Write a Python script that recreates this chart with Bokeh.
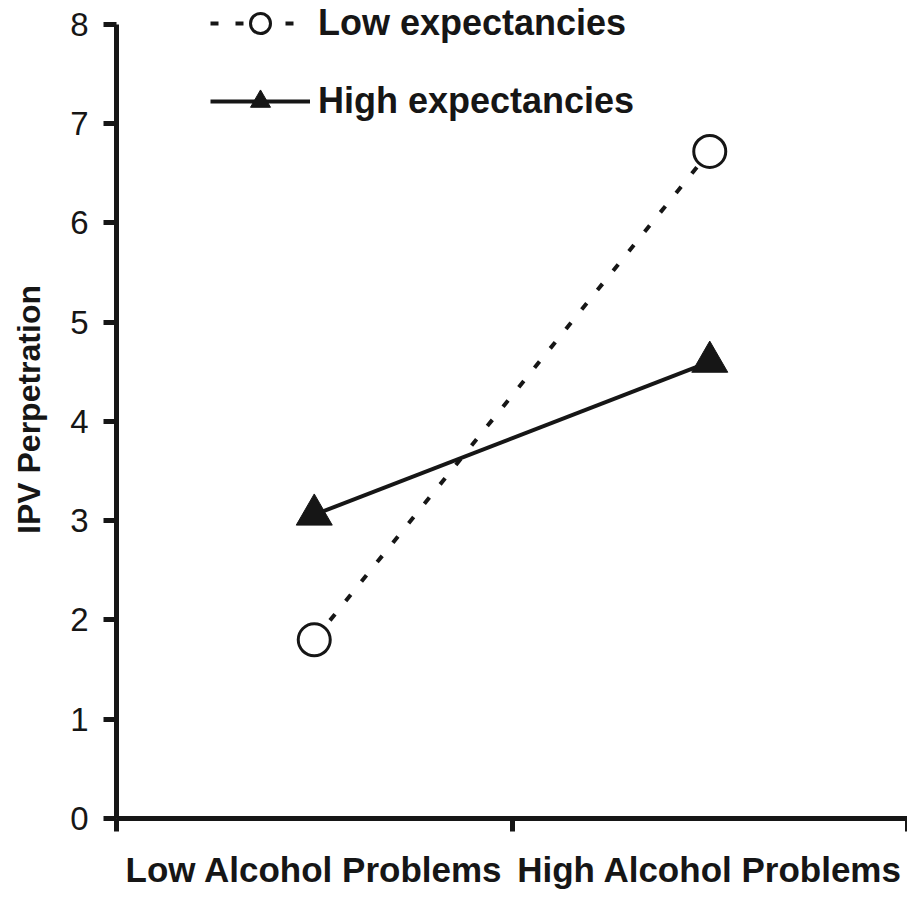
from bokeh.plotting import figure
from bokeh.models import Range1d, FixedTicker, Legend, LegendItem
from bokeh.embed import file_html
from bokeh.resources import INLINE

# ---- data ----
categories = ["Low Alcohol Problems", "High Alcohol Problems"]
series_names = ["Low expectancies", "High expectancies"]
low_expectancies = [1.80, 6.72]
high_expectancies = [3.06, 4.60]
y_ticks = [0, 1, 2, 3, 4, 5, 6, 7, 8]
y_label = "IPV Perpetration"

# category centres and boundaries on a numeric axis
x_pos = [i + 0.5 for i in range(len(categories))]
boundaries = list(range(len(categories) + 1))

INK = "#161616"
FONT = "Liberation Sans"

p = figure(width=907, height=891, output_backend="svg", toolbar_location=None,
           x_range=Range1d(0, len(categories)), y_range=Range1d(0, 8.24),
           min_border_left=116, min_border_right=0, min_border_top=0,
           min_border_bottom=0)
p.outline_line_color = None
p.grid.visible = False
p.background_fill_color = "white"
p.border_fill_color = "white"

# x axis: tick marks at category boundaries, labels at centres
xa = p.xaxis[0]
xa.ticker = FixedTicker(ticks=x_pos, minor_ticks=boundaries)
xa.major_label_overrides = {x: c for x, c in zip(x_pos, categories)}
xa.bounds = (0, len(categories))
xa.axis_line_width = 5
xa.axis_line_color = INK
xa.major_tick_line_color = None
xa.major_tick_out = 13
xa.major_tick_in = 0
xa.minor_tick_out = 13
xa.minor_tick_in = 0
xa.minor_tick_line_width = 5
xa.minor_tick_line_color = INK
xa.major_label_text_font = FONT
xa.major_label_text_font_style = "bold"
xa.major_label_text_font_size = "35px"
xa.major_label_text_color = INK
xa.major_label_standoff = 18

ya = p.yaxis[0]
ya.ticker = FixedTicker(ticks=y_ticks, minor_ticks=[])
ya.bounds = (y_ticks[0], y_ticks[-1])
ya.axis_line_width = 5
ya.axis_line_color = INK
ya.major_tick_line_width = 5
ya.major_tick_line_color = INK
ya.major_tick_out = 13
ya.major_tick_in = 0
ya.major_label_text_font = FONT
ya.major_label_text_font_size = "33px"
ya.major_label_text_color = INK
ya.major_label_standoff = 15
ya.axis_label = y_label
ya.axis_label_text_font = FONT
ya.axis_label_text_font_style = "bold"
ya.axis_label_text_font_size = "32px"
ya.axis_label_text_color = INK
ya.axis_label_standoff = 20

low_line = p.line(x_pos, low_expectancies, line_color=INK, line_width=4,
                  line_dash="8 17")
high_line = p.line(x_pos, high_expectancies, line_color=INK, line_width=4)
low_pts = p.scatter(x_pos, low_expectancies, marker="circle", size=32,
                    fill_color="white", line_color=INK, line_width=3)
high_pts = p.scatter(x_pos, high_expectancies, marker="triangle", size=36,
                     fill_color=INK, line_color=INK, line_width=1)

legend = Legend(
    items=[LegendItem(label=series_names[0], renderers=[low_line, low_pts]),
           LegendItem(label=series_names[1], renderers=[high_line, high_pts])],
    location=(94, 692), glyph_width=100, glyph_height=50, spacing=28,
    padding=0, margin=0, border_line_color=None, background_fill_alpha=0,
    label_standoff=8, label_text_font=FONT, label_text_font_style="bold",
    label_text_font_size="36px", label_text_color=INK)
p.add_layout(legend)

open("out.html", "w").write(file_html(p, INLINE))
